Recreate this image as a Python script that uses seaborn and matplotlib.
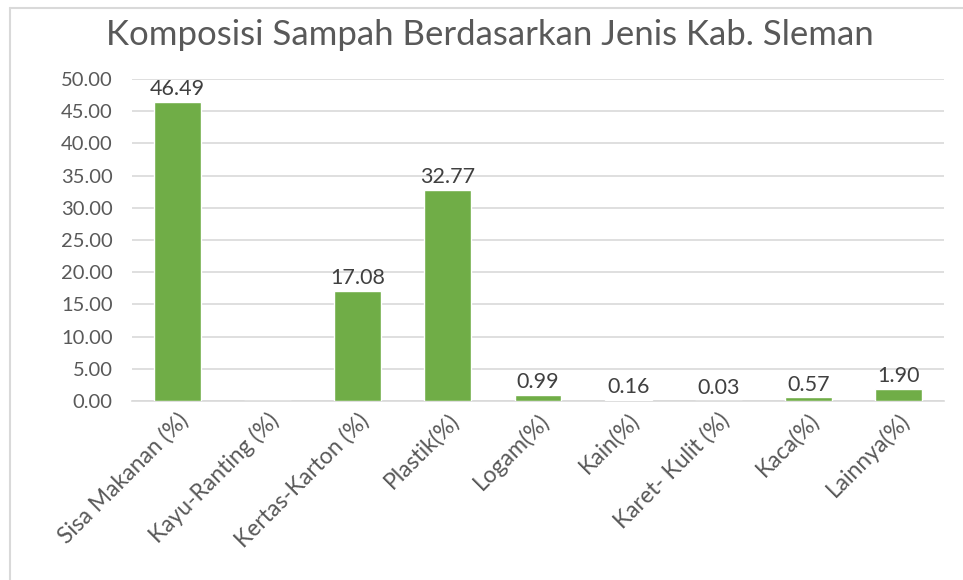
import numpy as np
import pandas as pd
import matplotlib
matplotlib.use("Agg")
import matplotlib.pyplot as plt
from matplotlib.lines import Line2D
import seaborn as sns

categories = ["Sisa Makanan (%)", "Kayu-Ranting (%)", "Kertas-Karton (%)", "Plastik(%)",
              "Logam(%)", "Kain(%)", "Karet- Kulit (%)", "Kaca(%)", "Lainnya(%)"]
values = [46.49, None, 17.08, 32.77, 0.99, 0.16, 0.03, 0.57, 1.90]
yticks = [0, 5, 10, 15, 20, 25, 30, 35, 40, 45, 50]
title = "Komposisi Sampah Berdasarkan Jenis Kab. Sleman"

sns.set_theme(style="white")
plt.rcParams['font.family'] = ['Lato', 'DejaVu Sans']

df = pd.DataFrame({"cat": categories,
                   "val": [v if v is not None else 0.0 for v in values]})

fig = plt.figure(figsize=(9.63, 5.80), dpi=100)
ax = fig.add_axes([132/963, 1-401/580, (944-132)/963, (401-79)/580])

sns.barplot(data=df, x="cat", y="val", color="#70AD47", saturation=1,
            width=0.52, ax=ax, zorder=3)

ax.set_ylim(0, 50)
ax.set_yticks(yticks)
ax.set_yticklabels([f"{t:.2f}" for t in yticks])
ax.yaxis.grid(True, color="#D9D9D9", linewidth=1.2, zorder=0)
ax.set_axisbelow(True)
for s in ["top", "right", "left"]:
    ax.spines[s].set_visible(False)
ax.spines["bottom"].set_color("#D9D9D9")
ax.spines["bottom"].set_linewidth(1.2)
ax.set_xlabel("")
ax.set_ylabel("")
ax.tick_params(axis="y", length=0, pad=14, labelsize=14.5, labelcolor="#595959")
ax.tick_params(axis="x", length=0, pad=6, labelsize=16.5, labelcolor="#595959")
plt.setp(ax.get_xticklabels(), rotation=45, ha="right", rotation_mode="anchor")

for i, v in enumerate(values):
    if v is None:
        continue
    ax.annotate(f"{v:.2f}", (i, v), xytext=(0, 2), textcoords="offset points",
                ha="center", va="bottom", fontsize=15.5, color="#404040")

fig.text(0.509, 1-35/580, title, ha="center", va="center", fontsize=25, color="#595959")

# chart border
fig.add_artist(Line2D([10/963, 10/963], [0, 1-8/580], color="#D9D9D9", linewidth=1.5,
                      transform=fig.transFigure))
fig.add_artist(Line2D([10/963, 1], [1-8/580, 1-8/580], color="#D9D9D9", linewidth=1.5,
                      transform=fig.transFigure))

fig.savefig("out.png", dpi=100, facecolor="white")
